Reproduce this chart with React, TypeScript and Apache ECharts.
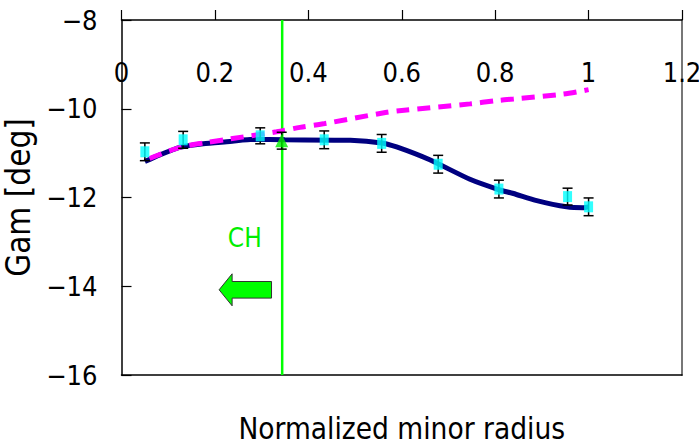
import React, { useEffect, useRef } from "react";
import * as echarts from "echarts";

// ---- data ----
const fitX = [0.05, 0.082, 0.125, 0.175, 0.232, 0.282, 0.35, 0.49, 0.557, 0.589, 0.66, 0.746, 0.807, 0.839, 0.889, 0.953, 0.989, 1.0];
const fitY = [-11.19, -11.04, -10.87, -10.79, -10.74, -10.69, -10.7, -10.71, -10.77, -10.86, -11.15, -11.59, -11.82, -11.91, -12.07, -12.21, -12.23, -12.21];

const dashX = [0.06, 0.125, 0.182, 0.232, 0.332, 0.382, 0.432, 0.568, 0.6, 0.746, 0.8, 0.839, 0.946, 1.0];
const dashY = [-11.12, -10.87, -10.76, -10.68, -10.52, -10.42, -10.34, -10.08, -10.04, -9.89, -9.82, -9.78, -9.67, -9.57];

const measX = [0.05, 0.132, 0.297, 0.434, 0.557, 0.678, 0.808, 0.955, 1.0];
const measY = [-10.97, -10.7, -10.61, -10.7, -10.78, -11.25, -11.81, -11.98, -12.21];
const measErr = [0.2, 0.19, 0.18, 0.2, 0.2, 0.2, 0.2, 0.19, 0.2];

const chX = [0.343];
const chY = [-10.72];
const chErr = [0.19];
const chLineX = 0.344;

const xTicks = ["0", "0.2", "0.4", "0.6", "0.8", "1", "1.2"];

const FONT = "'DejaVu Sans Condensed', 'Liberation Sans', sans-serif";

const zip = (xs: number[], ys: number[]) => xs.map((x, i) => [x, ys[i]]);
const errData = (xs: number[], ys: number[], es: number[]) =>
  xs.map((x, i) => [x, ys[i] - es[i], ys[i] + es[i]]);

const errRender = (params: any, api: any) => {
  const x = api.value(0);
  const lo = api.coord([x, api.value(1)]);
  const hi = api.coord([x, api.value(2)]);
  const w = 5;
  const style = { stroke: "#000", lineWidth: 1.5 };
  return {
    type: "group",
    children: [
      { type: "line", shape: { x1: lo[0], y1: lo[1], x2: hi[0], y2: hi[1] }, style },
      { type: "line", shape: { x1: lo[0] - w, y1: lo[1], x2: lo[0] + w, y2: lo[1] }, style },
      { type: "line", shape: { x1: hi[0] - w, y1: hi[1], x2: hi[0] + w, y2: hi[1] }, style },
    ],
  };
};

export default function App() {
  const ref = useRef<HTMLDivElement>(null);
  useEffect(() => {
    if (!ref.current) return;
    const chart = echarts.init(ref.current, null, { renderer: "svg" });
    const option: any = {
      animation: false,
      backgroundColor: "#fff",
      grid: {
        left: 121.5,
        top: 20,
        right: 17,
        bottom: 71,
        containLabel: false,
        outerBoundsMode: "none",
      },
      xAxis: [
        {
          type: "value",
          position: "top",
          min: 0,
          max: 1.2,
          interval: 0.2,
          axisLine: { show: true, lineStyle: { color: "#000", width: 1.5 } },
          axisTick: { show: true, inside: false, length: 10, lineStyle: { color: "#000", width: 1.2 } },
          axisLabel: {
            inside: true,
            margin: 39,
            fontSize: 27,
            color: "#000",
            fontFamily: FONT,
            formatter: (v: number) => xTicks[Math.round(v / 0.2)] ?? "",
          },
          splitLine: { show: false },
        },
        {
          type: "value",
          position: "bottom",
          min: 0,
          max: 1.2,
          interval: 0.2,
          axisLine: { show: true, onZero: false, lineStyle: { color: "#000", width: 1.5 } },
          axisTick: { show: false },
          axisLabel: { show: false },
          splitLine: { show: false },
          name: "Normalized minor radius",
          nameLocation: "middle",
          nameGap: 39,
          nameTextStyle: { fontSize: 29.5, color: "#000", fontFamily: FONT },
        },
      ],
      yAxis: [
        {
          type: "value",
          position: "left",
          min: -16,
          max: -8,
          interval: 2,
          axisLine: { show: true, onZero: false, lineStyle: { color: "#000", width: 1.5 } },
          axisTick: { show: true, inside: true, length: 10, lineStyle: { color: "#000", width: 1.2 } },
          axisLabel: {
            margin: 24,
            fontSize: 27,
            color: "#000",
            fontFamily: FONT,
            formatter: (v: number) => String(v).replace("-", "\u2212"),
          },
          splitLine: { show: false },
          name: "Gam [deg]",
          nameLocation: "middle",
          nameGap: 76,
          nameTextStyle: { fontSize: 33, color: "#000", fontFamily: FONT },
        },
        {
          type: "value",
          position: "right",
          min: -16,
          max: -8,
          interval: 2,
          axisLine: { show: true, onZero: false, lineStyle: { color: "#777", width: 2 } },
          axisTick: { show: false },
          axisLabel: { show: false },
          splitLine: { show: false },
        },
      ],
      series: [
        {
          type: "line",
          name: "CH",
          data: [[chLineX, -16], [chLineX, -8]],
          symbol: "none",
          lineStyle: { color: "#00ff00", width: 2.5 },
          z: 1,
        },
        {
          type: "line",
          data: zip(fitX, fitY),
          smooth: 0.2,
          symbol: "none",
          lineStyle: { color: "#000080", width: 5 },
          z: 2,
        },
        {
          type: "line",
          data: zip(dashX, dashY),
          smooth: 0.3,
          symbol: "none",
          lineStyle: { color: "#ff00ff", width: 5, type: [13, 8] },
          z: 3,
        },
        {
          type: "custom",
          data: errData(measX, measY, measErr),
          renderItem: errRender,
          encode: { x: 0, y: [1, 2] },
          z: 4,
        },
        {
          type: "custom",
          data: errData(chX, chY, chErr),
          renderItem: errRender,
          encode: { x: 0, y: [1, 2] },
          z: 4,
        },
        {
          type: "scatter",
          data: zip(measX, measY),
          symbol: "rect",
          symbolSize: [9, 11],
          itemStyle: { color: "#00ffff" },
          z: 5,
        },
        {
          type: "scatter",
          data: zip(chX, chY),
          symbol: "triangle",
          symbolSize: 13,
          itemStyle: { color: "#00ee00" },
          z: 5,
        },
      ],
    };
    chart.setOption(option);

    // annotations (CH label and arrow), anchored to data coordinates
    const t = chart.convertToPixel({ xAxisIndex: 0, yAxisIndex: 0 }, [0.264, -12.91]) as number[];
    const a = chart.convertToPixel({ xAxisIndex: 0, yAxisIndex: 0 }, [0.209, -14.08]) as number[];
    const ax = a[0];
    const ay = a[1];
    chart.setOption({
      graphic: [
        {
          type: "text",
          x: t[0],
          y: t[1],
          style: {
            text: "CH",
            fill: "#00ee00",
            fontSize: 26,
            fontFamily: FONT,
            align: "center",
            verticalAlign: "middle",
          },
          z: 10,
        },
        {
          type: "polygon",
          shape: {
            points: [
              [ax, ay],
              [ax + 13, ay - 16],
              [ax + 13, ay - 8.3],
              [ax + 52.4, ay - 8.3],
              [ax + 52.4, ay + 8.3],
              [ax + 13, ay + 8.3],
              [ax + 13, ay + 16],
            ],
          },
          style: { fill: "#00ff00", stroke: "#333", lineWidth: 1 },
          z: 10,
        },
      ],
    });
    return () => chart.dispose();
  }, []);
  return (
    <div
      ref={ref}
      style={{ position: "fixed", left: 0, top: 0, width: 699, height: 446 }}
    />
  );
}
